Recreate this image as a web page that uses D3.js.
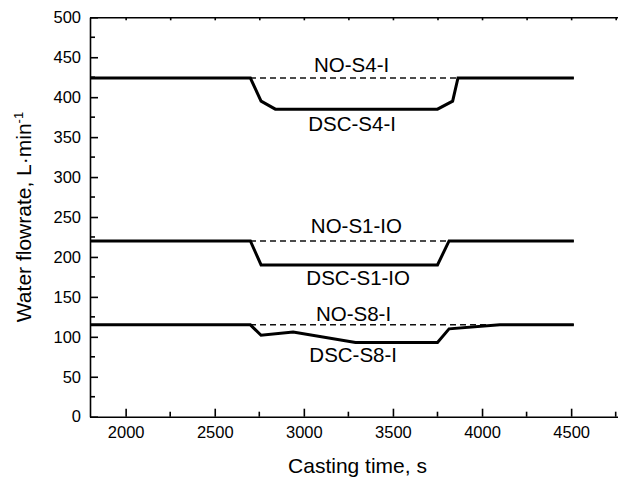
<!DOCTYPE html>
<html>
<head>
<meta charset="UTF-8">
<title>Water flowrate vs casting time</title>
<style>
    body { margin: 0; background: #fff; }
    svg { display: block; font-family: "Liberation Sans", Arial, sans-serif; }
    .axis path, .axis line { stroke: #000; stroke-width: 1.6px; }
    .axis text { font-size: 16.5px; fill: #000; }
    .solid { fill: none; stroke: #000; stroke-width: 3px; }
    .dash { fill: none; stroke: #111; stroke-width: 1.5px; stroke-dasharray: 6,4; }
    .lab { font-size: 20.5px; text-anchor: middle; }
</style>
<script src="https://d3js.org/d3.v7.min.js"></script>
</head>
<body>
<div id="chart"></div>
<script>
// data
const s4Time = [1800, 2700, 2760, 2840, 3750, 3835, 3865, 4515];
const s4DSC  = [424, 424, 395, 385, 385, 395, 424, 424];
const s4NO   = 424;

const s1Time = [1800, 2700, 2760, 3750, 3815, 4515];
const s1DSC  = [220, 220, 190, 190, 220, 220];
const s1NO   = 220;

const s8Time = [1800, 2700, 2760, 2940, 3290, 3750, 3815, 4100, 4515];
const s8DSC  = [115, 115, 102, 106, 93, 93, 110, 115, 115];
const s8NO   = 115;

const xTicks = [2000, 2500, 3000, 3500, 4000, 4500];
const yTicks = [0, 50, 100, 150, 200, 250, 300, 350, 400, 450, 500];

// curve labels: [text, time, flowrate]
const labels = [
    ["NO-S4-I", 3268, 431.5],
    ["DSC-S4-I", 3271, 357.5],
    ["NO-S1-IO", 3295, 230],
    ["DSC-S1-IO", 3305, 165],
    ["NO-S8-I", 3279, 120],
    ["DSC-S8-I", 3277, 68]
];

const width = 618, height = 479;
const svg = d3.select("#chart").append("svg")
    .attr("width", width).attr("height", height);

const x = d3.scaleLinear().domain([1800, 4800]).range([90, 624.6]);
const y = d3.scaleLinear().domain([0, 500]).range([416.7, 17.3]);

const minorX = d3.range(2250, 4800, 500);
const minorY = d3.range(25, 500, 50);

// bottom axis
const gx = svg.append("g").attr("class", "axis")
    .attr("transform", `translate(0,${y(0)})`)
    .call(d3.axisBottom(x).tickValues(xTicks).tickFormat(d3.format("d"))
        .tickSizeInner(-8).tickSizeOuter(0).tickPadding(10));
gx.selectAll(".mx").data(minorX).enter().append("line")
    .attr("x1", d => x(d)).attr("x2", d => x(d))
    .attr("y1", 0).attr("y2", -5);

// top axis
svg.append("g").attr("class", "axis")
    .attr("transform", `translate(0,${y(500)})`)
    .call(d3.axisTop(x).tickValues(xTicks.concat(minorX)).tickFormat("")
        .tickSizeInner(-3).tickSizeOuter(0));

// left axis
const gy = svg.append("g").attr("class", "axis")
    .attr("transform", `translate(${x(1800)},0)`)
    .call(d3.axisLeft(y).tickValues(yTicks).tickFormat(d3.format("d"))
        .tickSizeInner(-8).tickSizeOuter(0).tickPadding(9));
gy.selectAll(".my").data(minorY).enter().append("line")
    .attr("x1", 0).attr("x2", 5)
    .attr("y1", d => y(d)).attr("y2", d => y(d));

// lines
const line = d3.line().x(d => x(d[0])).y(d => y(d[1]));
const series = [
    [s4Time, s4DSC, s4NO],
    [s1Time, s1DSC, s1NO],
    [s8Time, s8DSC, s8NO]
];
series.forEach(([t, v, no]) => {
    svg.append("path").attr("class", "dash")
        .attr("d", line([[t[0], no], [t[t.length - 1], no]]));
    svg.append("path").attr("class", "solid")
        .attr("d", line(t.map((d, i) => [d, v[i]])));
});

svg.selectAll(".lab").data(labels).enter().append("text")
    .attr("class", "lab")
    .attr("x", d => x(d[1])).attr("y", d => y(d[2]))
    .text(d => d[0]);

// axis titles
svg.append("text")
    .attr("x", 357.5).attr("y", 473)
    .attr("text-anchor", "middle").style("font-size", "21px")
    .text("Casting time, s");

const yt = svg.append("text")
    .attr("transform", `translate(31,${(y(0) + y(500)) / 2}) rotate(-90)`)
    .attr("text-anchor", "middle").style("font-size", "21px");
yt.append("tspan").text("Water flowrate, L\u00b7min");
yt.append("tspan").attr("dy", -8).style("font-size", "13px").text("-1");
</script>
</body>
</html>
